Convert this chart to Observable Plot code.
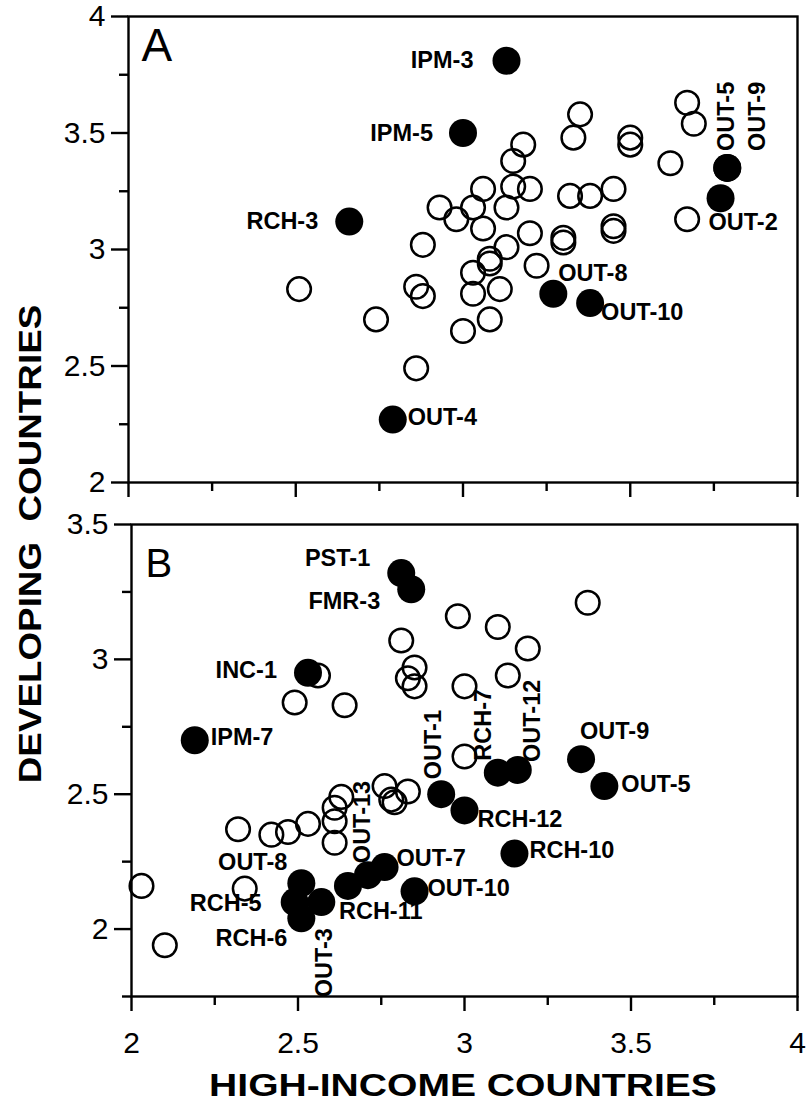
<!DOCTYPE html>
<html><head><meta charset="utf-8">
<script src="https://cdn.jsdelivr.net/npm/d3@7"></script>
<script src="https://cdn.jsdelivr.net/npm/@observablehq/plot@0.6"></script>
<style>
body{margin:0;background:#fff;}
#wrap{position:relative;width:812px;height:1112px;overflow:hidden;font-family:"Liberation Sans",Arial,Helvetica,sans-serif;color:#000;}
.panel{position:absolute;left:0;}
.anchor{position:absolute;width:0;height:0;}
.title{position:absolute;left:0;top:0;font-weight:bold;white-space:pre;line-height:1;}
</style></head><body><div id="wrap"></div>
<script>
// ---------- DATA ----------
const xTicks = [2, 2.5, 3, 3.5, 4];
const xMinor = [2.25, 2.75, 3.25, 3.75];
const yTicksA = [2, 2.5, 3, 3.5, 4];
const yMinorA = [2.25, 2.75, 3.25, 3.75];
const yTicksB = [2, 2.5, 3, 3.5];
const yMinorB = [1.75, 2.25, 2.75, 3.25];

// Panel A: unlabelled (open) points
const aOpenX = [3.35,3.33,3.18,3.15,3.50,3.50,3.67,3.69,3.62,3.06,3.15,3.20,3.32,3.38,3.45,2.93,2.98,3.03,3.13,3.06,3.20,3.30,3.30,3.45,3.45,2.88,3.13,3.08,3.08,3.22,3.03,2.86,2.88,3.03,3.11,3.08,3.00,2.74,2.51,2.86,3.67];
const aOpenY = [3.58,3.48,3.45,3.38,3.48,3.45,3.63,3.54,3.37,3.26,3.27,3.26,3.23,3.23,3.26,3.18,3.13,3.18,3.18,3.09,3.07,3.05,3.03,3.10,3.08,3.02,3.01,2.96,2.94,2.93,2.90,2.84,2.80,2.81,2.83,2.70,2.65,2.70,2.83,2.49,3.13];
// Panel A: labelled (filled) points
const aLabName = ["IPM-3","IPM-5","RCH-3","OUT-5","OUT-9","OUT-2","OUT-8","OUT-10","OUT-4"];
const aLabX = [3.13,3.00,2.66,3.79,3.79,3.77,3.27,3.38,2.79];
const aLabY = [3.81,3.50,3.12,3.35,3.35,3.22,2.81,2.77,2.27];

// Panel B: unlabelled (open) points
const bOpenX = [2.03,2.10,2.34,2.32,2.42,2.47,2.53,2.61,2.63,2.61,2.61,2.76,2.78,2.79,2.83,3.00,3.13,3.00,3.19,3.10,2.98,3.37,2.81,2.85,2.83,2.85,2.56,2.49,2.64];
const bOpenY = [2.16,1.94,2.15,2.37,2.35,2.36,2.39,2.45,2.49,2.40,2.32,2.53,2.48,2.47,2.51,2.64,2.94,2.90,3.04,3.12,3.16,3.21,3.07,2.97,2.93,2.90,2.94,2.84,2.83];
// Panel B: labelled (filled) points
const bLabName = ["PST-1","FMR-3","INC-1","IPM-7","OUT-1","RCH-12","RCH-7","OUT-12","OUT-9","OUT-5","RCH-10","OUT-10","OUT-7","OUT-13","RCH-11","OUT-8","RCH-5","OUT-3","RCH-6"];
const bLabX = [2.81,2.84,2.53,2.19,2.93,3.00,3.10,3.16,3.35,3.42,3.15,2.85,2.76,2.71,2.65,2.51,2.49,2.57,2.51];
const bLabY = [3.32,3.26,2.95,2.70,2.50,2.44,2.58,2.59,2.63,2.53,2.28,2.14,2.23,2.20,2.16,2.17,2.10,2.10,2.04];

// ---------- LABEL PLACEMENT (style) ----------
const placeA = {
  "IPM-3": {dx:-33, dy:0, a:"end"},
  "IPM-5": {dx:-30, dy:0, a:"end"},
  "RCH-3": {dx:-31, dy:0, a:"end"},
  "OUT-5": {dx:-1, dy:-17, a:"start", r:-90},
  "OUT-9": {dx:30, dy:-17, a:"start", r:-90},
  "OUT-2": {dx:-12, dy:24, a:"start"},
  "OUT-8": {dx:5, dy:-20, a:"start"},
  "OUT-10": {dx:11, dy:9, a:"start"},
  "OUT-4": {dx:15, dy:-2, a:"start"}
};
const placeB = {
  "PST-1": {dx:-31, dy:-15, a:"end"},
  "FMR-3": {dx:-31, dy:12, a:"end"},
  "INC-1": {dx:-31, dy:-2, a:"end"},
  "IPM-7": {dx:16, dy:-3, a:"start"},
  "OUT-1": {dx:-8, dy:-15, a:"start", r:-90},
  "RCH-12": {dx:13, dy:9, a:"start"},
  "RCH-7": {dx:-14, dy:-12, a:"start", r:-90},
  "OUT-12": {dx:15, dy:-8, a:"start", r:-90},
  "OUT-9": {dx:-1, dy:-28, a:"start"},
  "OUT-5": {dx:17, dy:-2, a:"start"},
  "RCH-10": {dx:15, dy:-3, a:"start"},
  "OUT-10": {dx:13, dy:-3, a:"start"},
  "OUT-7": {dx:12, dy:-9, a:"start"},
  "OUT-13": {dx:-5, dy:-12, a:"start", r:-90},
  "RCH-11": {dx:-9, dy:26, a:"start"},
  "OUT-8": {dx:-14, dy:-21, a:"end"},
  "RCH-5": {dx:-33, dy:1, a:"end"},
  "OUT-3": {dx:3, dy:26, a:"end", r:-90},
  "RCH-6": {dx:-14, dy:20, a:"end"}
};

const FONT = '"Liberation Sans", Arial, Helvetica, sans-serif';
const LW = 2.4;

function panel({openX, openY, labName, labX, labY, place, yDomain, yTicks, yMinor, showXLabels, letter, letterSize, letterDx, letterDy, height, mTop, mBottom, mLeft}) {
  const open = openX.map((x, i) => ({x, y: openY[i]}));
  const lab = labName.map((name, i) => ({name, x: labX[i], y: labY[i]}));
  const labelMarks = lab.map(d => {
    const p = place[d.name];
    return Plot.text([d], {x: "x", y: "y", text: "name", dx: p.dx, dy: p.dy, textAnchor: p.a, rotate: p.r || 0,
      fontSize: 23.5, fontWeight: "bold", fill: "black"});
  });
  return Plot.plot({
    width: 812, height,
    marginTop: mTop, marginBottom: mBottom, marginLeft: mLeft, marginRight: 15,
    style: {fontFamily: FONT, background: "transparent", overflow: "visible"},
    x: {domain: [2, 4]},
    y: {domain: yDomain},
    marks: [
      Plot.axisY({ticks: yTicks, tickSize: 17, tickPadding: 6, strokeWidth: LW, fontSize: 30, label: null, tickFormat: d => String(d)}),
      Plot.axisY({ticks: yMinor, tickSize: 9, strokeWidth: LW, tickFormat: () => "", label: null}),
      Plot.axisX({ticks: xTicks, tickSize: 15, tickPadding: 20, strokeWidth: LW, fontSize: 30, label: null,
        tickFormat: showXLabels ? (d => String(d)) : (() => "")}),
      Plot.axisX({ticks: xMinor, tickSize: 9, strokeWidth: LW, tickFormat: () => "", label: null}),
      Plot.frame({stroke: "black", strokeWidth: LW}),
      Plot.dot(open, {x: "x", y: "y", r: 11.8, fill: "none", stroke: "black", strokeWidth: 2.5}),
      Plot.dot(lab, {x: "x", y: "y", r: 14, fill: "black", stroke: "none"}),
      ...labelMarks,
      Plot.text([letter], {frameAnchor: "top-left", text: d => d, textAnchor: "start", lineAnchor: "top",
        dx: letterDx, dy: letterDy, fontSize: letterSize, fill: "black"})
    ]
  });
}

const wrap = document.getElementById("wrap");

const pA = panel({openX: aOpenX, openY: aOpenY, labName: aLabName, labX: aLabX, labY: aLabY, place: placeA,
  yDomain: [2, 4], yTicks: yTicksA, yMinor: yMinorA, showXLabels: false, letter: "A", letterSize: 46, letterDx: 13, letterDy: 12,
  height: 500, mTop: 16, mBottom: 18, mLeft: 128});
pA.classList.add("panel"); pA.style.top = "0px";
wrap.appendChild(pA);

const pB = panel({openX: bOpenX, openY: bOpenY, labName: bLabName, labX: bLabX, labY: bLabY, place: placeB,
  yDomain: [1.75, 3.5], yTicks: yTicksB, yMinor: yMinorB, showXLabels: true, letter: "B", letterSize: 40, letterDx: 14, letterDy: 24,
  height: 570, mTop: 24, mBottom: 74, mLeft: 131});
pB.classList.add("panel"); pB.style.top = "500px";
wrap.appendChild(pB);

function title(text, cx, cy, size, transform) {
  const a = document.createElement("div");
  a.className = "anchor";
  a.style.left = cx + "px"; a.style.top = cy + "px";
  const s = document.createElement("div");
  s.className = "title";
  s.textContent = text;
  s.style.fontSize = size + "px";
  s.style.transform = "translate(-50%,-50%) " + transform;
  a.appendChild(s);
  wrap.appendChild(a);
}
title("DEVELOPING  COUNTRIES", 30, 544, 32, "rotate(-90deg) scaleX(1.15)");
title("HIGH-INCOME COUNTRIES", 463, 1085, 31, "scaleX(1.26)");
</script></body></html>
